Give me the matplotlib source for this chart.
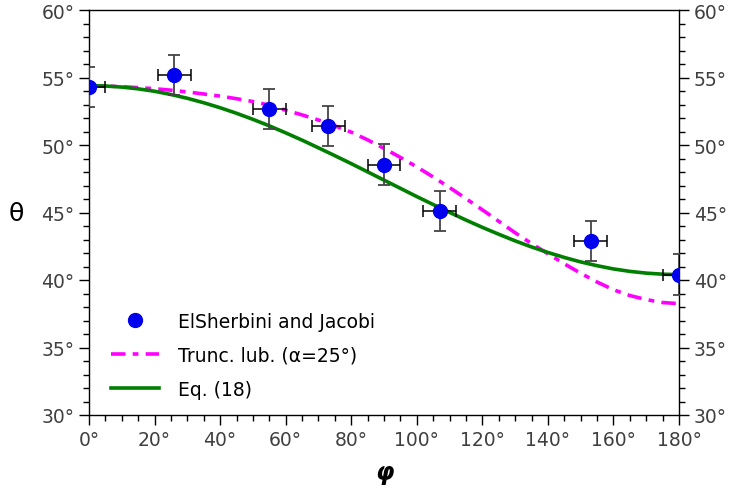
import matplotlib
matplotlib.use("Agg")
import matplotlib.pyplot as plt
from matplotlib.ticker import MultipleLocator, FuncFormatter

# Experimental data (ElSherbini and Jacobi)
phi_data = [0, 26, 55, 73, 90, 107, 153, 180]
theta_data = [54.3, 55.2, 52.65, 51.4, 48.55, 45.1, 42.9, 40.4]
phi_err = [5, 5, 5, 5, 5, 5, 5, 5]
theta_err = [1.5, 1.5, 1.5, 1.5, 1.5, 1.5, 1.5, 1.5]

# Curves
phi_curve = [0, 5, 10, 15, 20, 25, 30, 35, 40, 45, 50, 55, 60, 65, 70, 75, 80, 85, 90,
             95, 100, 105, 110, 115, 120, 125, 130, 135, 140, 145, 150, 155, 160, 165,
             170, 175, 180]
theta_trunc = [54.40, 54.37, 54.32, 54.25, 54.17, 54.06, 53.93, 53.78, 53.62, 53.43,
               53.22, 52.95, 52.58, 52.23, 51.85, 51.42, 50.95, 50.38, 49.75, 49.08,
               48.38, 47.63, 46.85, 46.03, 45.20, 44.35, 43.50, 42.70, 41.95, 41.20,
               40.50, 39.85, 39.28, 38.85, 38.55, 38.33, 38.25]
theta_eq18 = [54.40, 54.37, 54.29, 54.16, 53.98, 53.74, 53.46, 53.13, 52.76, 52.35,
              51.90, 51.42, 50.90, 50.36, 49.79, 49.21, 48.62, 48.01, 47.40, 46.79,
              46.18, 45.59, 45.01, 44.44, 43.90, 43.39, 42.90, 42.45, 42.04, 41.67,
              41.34, 41.06, 40.82, 40.64, 40.51, 40.43, 40.40]

xticks = [0, 20, 40, 60, 80, 100, 120, 140, 160, 180]
yticks = [30, 35, 40, 45, 50, 55, 60]

fig = plt.figure(figsize=(7.30, 5.02), dpi=100)
ax = fig.add_axes([89/730, 1-416/502, (679-89)/730, (416-11)/502])

ax.plot(phi_curve, theta_trunc, color="#ff00ff", lw=2.6, dashes=(4, 2, 1.6, 2),
        label="Trunc. lub. (\u03b1=25\u00b0)", zorder=2)
ax.plot(phi_curve, theta_eq18, color="#007f00", lw=2.6, label="Eq. (18)", zorder=2)

# error bars
ax.errorbar(phi_data, theta_data, yerr=theta_err, fmt="none", ecolor="#444444",
            elinewidth=1.3, capsize=4.5, capthick=1.3, zorder=3)
ax.errorbar(phi_data, theta_data, xerr=phi_err, fmt="none", ecolor="black",
            elinewidth=1.1, capsize=4.5, capthick=1.1, zorder=3)
ax.plot(phi_data, theta_data, "o", color="#0000ee", markersize=10,
        label="ElSherbini and Jacobi", zorder=4, linestyle="none")

ax.set_xlim(0, 180)
ax.set_ylim(30, 60)
ax.set_xticks(xticks)
ax.set_yticks(yticks)
ax.xaxis.set_minor_locator(MultipleLocator(5))
ax.yaxis.set_minor_locator(MultipleLocator(1))
deg = FuncFormatter(lambda v, p: f"{v:.0f}\u00b0")
ax.xaxis.set_major_formatter(deg)
ax.yaxis.set_major_formatter(deg)

ax.tick_params(axis="both", which="both", direction="out", colors="black",
               labelcolor="#404040", labelsize=13.5)
ax.tick_params(axis="y", which="both", left=True, right=True, labelleft=True, labelright=True)
ax.tick_params(axis="x", which="both", top=False, bottom=True)
ax.tick_params(which="major", length=7, width=1)
ax.tick_params(which="minor", length=4, width=1)
for s in ax.spines.values():
    s.set_linewidth(1.0)

ax.set_xlabel("\u03c6", fontsize=17, fontstyle="italic", fontweight="bold", labelpad=8)
ax.set_ylabel("\u03b8", fontsize=18, rotation=0, labelpad=18, va="center")

handles, labels = ax.get_legend_handles_labels()
order = [2, 0, 1]
ax.legend([handles[i] for i in order], [labels[i] for i in order],
          loc="lower left", bbox_to_anchor=(0.008, -0.002), frameon=False,
          fontsize=13.5, handlelength=2.6, labelspacing=0.8, handletextpad=1.0)

fig.savefig("out.png", dpi=100)
